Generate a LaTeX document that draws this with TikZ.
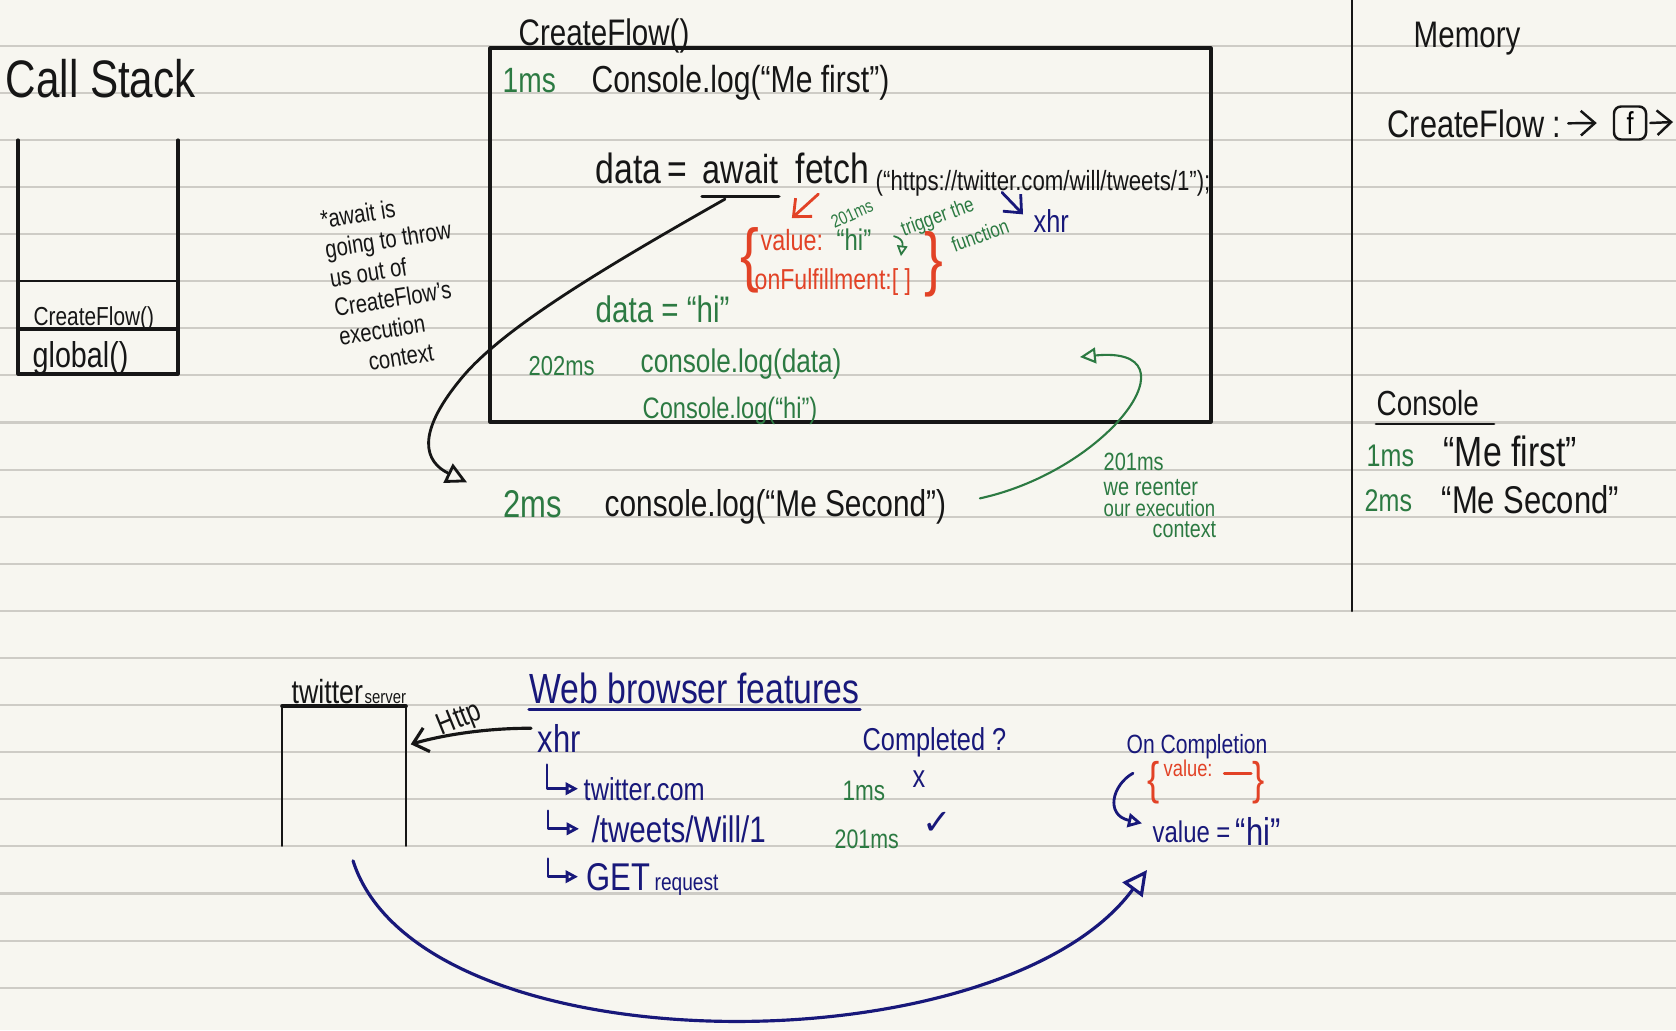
\documentclass[tikz,border=0pt]{standalone}
\usepackage{fontspec}
\setmainfont[FakeStretch=0.8]{Liberation Sans}
\newfontfamily\symfont{DejaVu Sans}
\usetikzlibrary{arrows.meta,calc}
\definecolor{paper}{RGB}{247,246,240}
\definecolor{ruling}{RGB}{206,204,198}
\definecolor{ink}{RGB}{22,22,22}
\definecolor{inkgreen}{RGB}{44,122,66}
\definecolor{inkblue}{RGB}{24,24,122}
\definecolor{inkred}{RGB}{226,66,38}
\begin{document}
\begin{tikzpicture}[x=0.01cm, y=0.01cm, line cap=round, line join=round,
    hand/.style={inner sep=0pt, anchor=base west, text=ink},
    sz/.style={font=\fontsize{#1}{#1}\selectfont},
    tri/.style={-{Triangle[open, length=#1, width=#1]}}, tri/.default=5pt,
    barb/.style={-{Straight Barb[length=4pt, width=7pt]}}]
    \fill[paper] (0,0) rectangle (1676,-1030);
    \useasboundingbox (0,0) rectangle (1676,-1030);
    \foreach \k in {0,...,20}
        \draw[ruling, line width=0.6pt] (0,{-45.7-47.1*\k}) -- (1676,{-45.7-47.1*\k});
    \draw[ink, line width=0.7pt] (1352,0) -- (1352,-611);

    % call stack
    \node[hand, sz=15] (callStack) at (5,-97) {Call Stack};
    \draw[ink, line width=0.9pt] (18,-140) -- (18,-374) -- (178,-374) -- (178,-140);
    \draw[ink, line width=0.4pt] (18,-281) -- (178,-281);
    \draw[ink, line width=0.9pt] (18,-329) -- (178,-329);
    \node[hand, sz=7.4] (cfFrame) at (33,-325) {CreateFlow()};
    \node[hand, sz=10.2] (globalFrame) at (32,-367) {global()};
    \node[inner sep=0pt, text=ink, font=\fontsize{7.2}{8.4}\selectfont, align=left, rotate=9] (awaitNote) at (395,-283)
        {*await is\\going to throw\\us out of\\CreateFlow's\\execution\\\hspace*{1em}context};

    % createFlow box
    \node[hand, sz=10.5] (cfHead) at (518,-45) {CreateFlow()};
    \draw[ink, line width=0.9pt] (490,-48) rectangle (1211,-422);
    \node[hand, text=inkgreen, sz=10] (oneMs) at (502,-92) {1ms};
    \node[hand, sz=10.7] (meFirst) at (591,-92) {Console.log(“Me first”)};
    \node[hand, sz=12] (dataVar) at (595,-183) {data};
    \node[hand, sz=12] (eqSign) at (667,-183) {=};
    \node[hand, sz=11.5] (awaitKw) at (702,-183) {await};
    \draw[ink, line width=0.9pt] ([yshift=-0.12cm]awaitKw.south west) -- ([yshift=-0.12cm]awaitKw.south east);
    \node[hand, sz=12] (fetchCall) at (795,-183) {fetch};
    \node[hand, sz=7.9] (url) at (875,-190) {(“https://twitter.com/will/tweets/1”);};

    \node[inner sep=0pt, text=inkred, sz=20] (lBrace) at (750,-260) {\{};
    \node[inner sep=0pt, text=inkred, sz=20] (rBrace) at (934,-264) {\}};
    \node[hand, text=inkred, sz=8.3] (valR) at (760,-250) {value:};
    \node[hand, text=inkgreen, sz=8.5] (hiG) at (836,-250) {“hi”};
    \node[hand, text=inkred, sz=8.2] (onFul) at (754,-289) {onFulfillment:[ ]};
    \draw[inkred, line width=0.8pt, barb] ([xshift=-0.14cm, yshift=-0.1cm]fetchCall.south) -- ([yshift=0.1cm]valR.north);
    \draw[inkgreen, line width=0.5pt, tri=3pt] ($(hiG.east)+(22,3)$) .. controls +(12,-3) and +(1,8) .. ($(hiG.east)+(29,-17)$);
    \node[inner sep=0pt, text=inkgreen, sz=5.2, rotate=24] (ms201a) at (852,-214) {201ms};
    \node[inner sep=0pt, text=inkgreen, sz=6, rotate=20] (trigA) at (938,-218) {trigger the};
    \node[inner sep=0pt, text=inkgreen, sz=6, rotate=20] (trigB) at (980,-235) {function};
    \node[hand, text=inkblue, sz=9] (xhrTop) at (1033,-232) {xhr};
    \draw[inkblue, line width=0.8pt, barb] ([xshift=-0.41cm, yshift=0.04cm]url.south) -- ([xshift=-0.1cm, yshift=-0.06cm]xhrTop.north west);

    \node[hand, text=inkgreen, sz=10.5] (dataHi) at (595,-322) {data = “hi”};
    \node[hand, text=inkgreen, sz=7.8] (ms202) at (528,-375) {202ms};
    \node[hand, text=inkgreen, sz=9.3] (logData) at (640,-372) {console.log(data)};
    \node[hand, text=inkgreen, sz=8.4] (logHi) at (642,-418) {Console.log(“hi”)};

    % leaving and reentering
    \node[hand, text=inkgreen, sz=11] (twoMs) at (503,-517) {2ms};
    \node[hand, sz=10.6] (meSecond) at (604,-516) {console.log(“Me Second”)};
    \draw[ink, line width=0.8pt, tri=6pt] ([xshift=0.23cm, yshift=-0.15cm]awaitKw.south west)
        .. controls (600,-270) and (500,-330) .. (460,-380)
        .. controls (415,-435) and (425,-462) .. ([xshift=-0.36cm, yshift=0.07cm]twoMs.north west);
    \coordinate (reenter) at (1080,-357);
    \draw[inkgreen, line width=0.6pt, tri=4.5pt] ([xshift=0.33cm, yshift=0.08cm]meSecond.east)
        .. controls (1110,-470) and (1200,-345) .. (reenter);
    \node[hand, text=inkgreen, sz=7.1] (ms201b) at (1103,-470) {201ms};
    \node[hand, text=inkgreen, sz=7.1] (reenterA) at (1103,-495) {we reenter};
    \node[hand, text=inkgreen, sz=6.6] (reenterB) at (1103,-516) {our execution};
    \node[hand, text=inkgreen, sz=7] (reenterC) at (1152,-537) {context};

    % memory and console
    \node[hand, sz=10.5] (memory) at (1413,-47) {Memory};
    \node[hand, sz=10.9] (cfMem) at (1387,-137) {CreateFlow :};
    \node[draw=ink, line width=0.7pt, rounded corners=2pt, inner sep=0pt, minimum width=0.32cm, minimum height=0.33cm, sz=9] (fBox) at (1630,-123) {f};
    \coordinate (memEdge) at (1673,-122);
    \draw[ink, line width=0.7pt, barb] ([xshift=0.06cm]cfMem.east) -- ([xshift=-0.16cm]fBox.west);
    \draw[ink, line width=0.7pt, barb] ([xshift=0.03cm]fBox.east) -- (memEdge);
    \node[hand, sz=9.9] (consoleHd) at (1376,-415) {Console};
    \draw[ink, line width=0.8pt] ([yshift=-0.08cm]consoleHd.south west) -- ++(118,0);
    \node[hand, text=inkgreen, sz=8.9] (c1ms) at (1366,-466) {1ms};
    \node[hand, sz=12] (cFirst) at (1443,-466) {“Me first”};
    \node[hand, text=inkgreen, sz=8.9] (c2ms) at (1364,-511) {2ms};
    \node[hand, sz=11] (cSecond) at (1441,-513) {“Me Second”};

    % twitter server and browser features
    \node[hand, sz=9.5] (twitterLbl) at (291,-703) {twitter};
    \node[hand, sz=5.3] (serverLbl) at (364,-703) {server};
    \node[minimum width=1.22cm, minimum height=1.38cm, inner sep=0pt] (serverBox) at (344,-776) {};
    \draw[ink, line width=0.7pt] (serverBox.south west) -- (serverBox.north west) -- (serverBox.north east) -- (serverBox.south east);
    \draw[ink, line width=1.2pt] (serverBox.north west) -- (serverBox.north east);
    \node[hand, text=inkblue, sz=12] (webFeat) at (529,-703) {Web browser features};
    \draw[inkblue, line width=0.9pt] ([yshift=-0.05cm]webFeat.south west) -- ([yshift=-0.05cm]webFeat.south east);
    \node[hand, text=inkblue, sz=11] (xhrBot) at (537,-752) {xhr};
    \draw[ink, line width=0.9pt, barb] ([xshift=-0.06cm, yshift=-0.05cm]xhrBot.north west)
        .. controls (495,-728) and (450,-733) .. ([xshift=0.05cm, yshift=-0.38cm]serverBox.north east);
    \node[inner sep=0pt, sz=8.7, rotate=22, text=ink] (httpLbl) at (460,-720) {Http};
    \node[hand, text=inkblue, sz=9] (completed) at (862,-750) {Completed ?};
    \node[hand, text=inkblue, sz=7.5] (onCompl) at (1126,-753) {On Completion};

    \node[hand, text=inkblue, sz=9] (twCom) at (583,-800) {twitter.com};
    \node[hand, text=inkblue, sz=10.5] (tweetsPath) at (591,-842) {/tweets/Will/1};
    \node[hand, text=inkblue, sz=11] (getReq) at (586,-890) {GET};
    \node[hand, text=inkblue, sz=6.8] (reqLbl) at (654,-890) {request};
    \draw[inkblue, line width=0.8pt, tri=3.5pt] ($(twCom.west)+(-36,24)$) |- ([xshift=-0.05cm]twCom.west);
    \draw[inkblue, line width=0.8pt, tri=3.5pt] ($(tweetsPath.west)+(-43,18)$) |- ([xshift=-0.12cm]tweetsPath.west);
    \draw[inkblue, line width=0.8pt, tri=3.5pt] ($(getReq.west)+(-38,18)$) |- ([xshift=-0.08cm]getReq.west);

    \node[hand, text=inkgreen, sz=8] (ms1b) at (842,-800) {1ms};
    \node[hand, text=inkblue, sz=9] (notDone) at (912,-787) {x};
    \node[hand, text=inkgreen, sz=7.6] (ms201c) at (834,-848) {201ms};
    \node[hand, text=inkblue, font=\symfont\fontsize{10}{10}\selectfont] (done) at (922,-834) {✓};

    % on completion
    \node[inner sep=0pt, text=inkred, sz=13] (lBrace2) at (1154,-783) {\{};
    \node[inner sep=0pt, text=inkred, sz=13] (rBrace2) at (1259,-783) {\}};
    \node[hand, text=inkred, sz=6.5] (valEmpty) at (1163,-776) {value:};
    \draw[inkred, line width=0.8pt] ([xshift=0.11cm, yshift=-0.06cm]valEmpty.east) -- ++(27,0);
    \node[hand, text=inkblue, sz=8.5] (valueEq) at (1152,-842) {value =};
    \node[hand, text=inkblue, sz=11] (valueHi) at (1235,-845) {“hi”};
    \draw[inkblue, line width=0.8pt, tri=4pt] ([xshift=0.07cm, yshift=-0.14cm]onCompl.south west)
        .. controls (1112,-785) and (1105,-815) .. ([xshift=-0.1cm, yshift=0.08cm]valueEq.west);
    \draw[inkblue, line width=0.9pt, tri=7pt] ([xshift=0.09cm, yshift=-0.15cm]serverBox.south)
        .. controls (420,-1070) and (1000,-1070) .. ([xshift=-0.05cm, yshift=-0.27cm]valueEq.south west);
\end{tikzpicture}
\end{document}
